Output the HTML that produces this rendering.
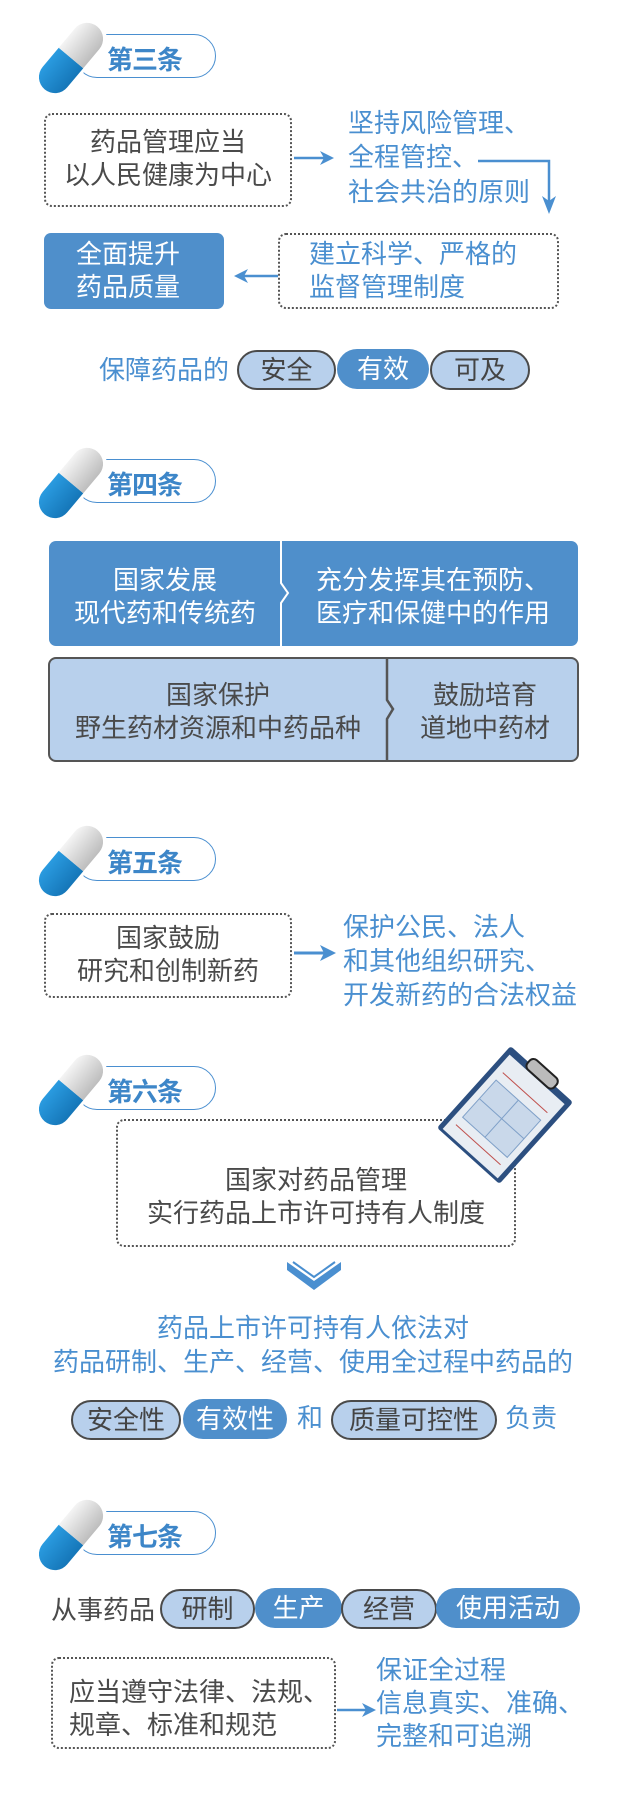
<!DOCTYPE html>
<html><head><meta charset="utf-8">
<style>
*{margin:0;padding:0;box-sizing:border-box}
body{width:626px;height:1800px;background:#fff;position:relative;overflow:hidden;font-family:"Liberation Sans","Noto Sans CJK SC",sans-serif}
.a{position:absolute}
.t{position:absolute;font-size:26px;line-height:33px;white-space:nowrap}
.g{color:#4a4a4a}.b{color:#4a8fd0}.w{color:#fff}
.dash{position:absolute;border:2.5px dotted #555;border-radius:8px}
.title{position:absolute;left:75px;width:141px;height:44px;border:1.5px solid #4a8fd0;border-radius:22px}
.title span{position:absolute;left:31px;top:5px;font-size:26px;font-weight:bold;color:#3d86c8;letter-spacing:-1px}
.pl{position:absolute;height:40px;border-radius:20px;font-size:26px;line-height:36px;text-align:center;white-space:nowrap}
.lt{background:#b8d0ec;border:2.5px solid #4a4a4a;color:#444}
.dk{background:#4f8fcb;color:#fff;line-height:40px}
</style></head><body>

<svg class="a" style="left:0;top:0" width="626" height="1800">
<defs>
<linearGradient id="bl" x1="0" y1="0" x2="0" y2="1"><stop offset="0" stop-color="#2a9be0"/><stop offset="1" stop-color="#1576b8"/></linearGradient>
<linearGradient id="wh" x1="0" y1="0" x2="0" y2="1"><stop offset="0" stop-color="#f4f4f4"/><stop offset="1" stop-color="#bdbdbd"/></linearGradient>
<g id="cap">
<g transform="rotate(-50)">
<rect x="-45" y="-19" width="90" height="38" rx="19" fill="#fff"/>
<path d="M0,-16 H-25 A16,16 0 0 0 -25,16 H0 Z" fill="url(#bl)"/>
<path d="M0,-16 H25 A16,16 0 0 1 25,16 H0 Z" fill="url(#wh)"/>
</g>
</g>
</defs>
<line x1="294" y1="158" x2="330" y2="158" stroke="#4a8fd0" stroke-width="2.5"/>
<path d="M320,151 L334,158 L320,165 L324,158Z" fill="#4a8fd0"/>
<polyline points="478,161 549,161 549,205" fill="none" stroke="#4a8fd0" stroke-width="2.5"/>
<path d="M542,196 L549,214 L556,196 L549,201Z" fill="#4a8fd0"/>
<line x1="278" y1="276" x2="240" y2="276" stroke="#4a8fd0" stroke-width="2.5"/>
<path d="M248,269 L234,276 L248,283 L244,276Z" fill="#4a8fd0"/>
<line x1="294" y1="953" x2="330" y2="953" stroke="#4a8fd0" stroke-width="3"/>
<path d="M320,945 L336,953 L320,961 L324,953Z" fill="#4a8fd0"/>
<path d="M287,1262 L314,1281 L341,1262 L341,1270 L314,1290 L287,1270Z" fill="#4a8fd0"/>
<path d="M293,1262 L314,1277 L335,1262" fill="none" stroke="#4a8fd0" stroke-width="2"/>
<line x1="337" y1="1710" x2="370" y2="1710" stroke="#4a8fd0" stroke-width="2.5"/>
<path d="M362,1703 L376,1710 L362,1717 L366,1710Z" fill="#4a8fd0"/>
</svg>

<div class="title" style="top:34px"><span>第三条</span></div>
<svg class="a" style="left:0;top:0" width="130" height="100"><use href="#cap" x="71" y="58"/></svg>
<div class="dash" style="left:44px;top:113px;width:248px;height:94px"></div>
<div class="t g" style="left:44px;width:248px;text-align:center;top:126px">药品管理应当</div>
<div class="t g" style="left:44px;width:248px;text-align:center;top:159px">以人民健康为中心</div>
<div class="t b" style="left:348px;top:107px">坚持风险管理、</div>
<div class="t b" style="left:348px;top:141px">全程管控、</div>
<div class="t b" style="left:348px;top:176px">社会共治的原则</div>
<div class="a" style="left:44px;top:233px;width:180px;height:76px;background:#4f8fcb;border-radius:7px"></div>
<div class="t w" style="left:76px;top:238px">全面提升</div>
<div class="t w" style="left:76px;top:271px">药品质量</div>
<div class="dash" style="left:278px;top:233px;width:281px;height:76px"></div>
<div class="t b" style="left:309px;top:238px">建立科学、严格的</div>
<div class="t b" style="left:309px;top:271px">监督管理制度</div>
<div class="t b" style="left:99px;top:354px">保障药品的</div>
<div class="pl lt" style="left:237px;top:350px;width:99px">安全</div>
<div class="pl dk" style="left:337px;top:349px;width:92px">有效</div>
<div class="pl lt" style="left:430px;top:350px;width:100px">可及</div>

<div class="title" style="top:459px"><span>第四条</span></div>
<svg class="a" style="left:0;top:425px" width="130" height="100"><use href="#cap" x="71" y="58"/></svg>
<div class="a" style="left:49px;top:541px;width:529px;height:105px;background:#4f8fcb;border-radius:7px"></div>
<svg class="a" style="left:270px;top:541px" width="30" height="105"><polyline points="11,0 11,42 18,52 11,62 11,105" fill="none" stroke="#fff" stroke-width="2"/></svg>
<div class="t w" style="left:49px;width:232px;text-align:center;top:564px">国家发展</div>
<div class="t w" style="left:49px;width:232px;text-align:center;top:597px">现代药和传统药</div>
<div class="t w" style="left:288px;width:290px;text-align:center;top:564px">充分发挥其在预防、</div>
<div class="t w" style="left:288px;width:290px;text-align:center;top:597px">医疗和保健中的作用</div>
<div class="a" style="left:48px;top:657px;width:531px;height:105px;background:#b8d0ec;border:2.5px solid #555;border-radius:8px"></div>
<svg class="a" style="left:380px;top:657px" width="30" height="105"><polyline points="7,2 7,43 13,52 7,62 7,103" fill="none" stroke="#555" stroke-width="2.5"/></svg>
<div class="t g" style="left:49px;width:338px;text-align:center;top:679px">国家保护</div>
<div class="t g" style="left:49px;width:338px;text-align:center;top:712px">野生药材资源和中药品种</div>
<div class="t g" style="left:392px;width:186px;text-align:center;top:679px">鼓励培育</div>
<div class="t g" style="left:392px;width:186px;text-align:center;top:712px">道地中药材</div>

<div class="title" style="top:837px"><span>第五条</span></div>
<svg class="a" style="left:0;top:803px" width="130" height="100"><use href="#cap" x="71" y="58"/></svg>
<div class="dash" style="left:44px;top:913px;width:248px;height:85px"></div>
<div class="t g" style="left:44px;width:248px;text-align:center;top:922px">国家鼓励</div>
<div class="t g" style="left:44px;width:248px;text-align:center;top:955px">研究和创制新药</div>
<div class="t b" style="left:343px;top:911px">保护公民、法人</div>
<div class="t b" style="left:343px;top:945px">和其他组织研究、</div>
<div class="t b" style="left:343px;top:979px">开发新药的合法权益</div>

<div class="title" style="top:1066px"><span>第六条</span></div>
<svg class="a" style="left:0;top:1032px" width="130" height="100"><use href="#cap" x="71" y="58"/></svg>
<div class="dash" style="left:116px;top:1119px;width:400px;height:128px"></div>
<div class="t g" style="left:116px;width:400px;text-align:center;top:1164px">国家对药品管理</div>
<div class="t g" style="left:116px;width:400px;text-align:center;top:1197px">实行药品上市许可持有人制度</div>
<svg class="a" style="left:430px;top:1040px" width="150" height="150">
<g transform="translate(75,75) rotate(42)">
<rect x="-42" y="-55" width="84" height="110" rx="3" fill="#2c4f80"/>
<rect x="-37" y="-48" width="74" height="100" fill="#e8edf3"/>
<rect x="-30" y="-20" width="60" height="50" fill="#c9d8ea" stroke="#7fa0c8"/>
<line x1="0" y1="-20" x2="0" y2="30" stroke="#7fa0c8"/>
<line x1="-30" y1="5" x2="30" y2="5" stroke="#7fa0c8"/>
<line x1="-30" y1="-30" x2="30" y2="-30" stroke="#c0504d" stroke-width="1"/>
<line x1="-30" y1="40" x2="30" y2="40" stroke="#c0504d" stroke-width="1"/>
<rect x="-18" y="-62" width="36" height="13" rx="5" fill="#bbb" stroke="#222" stroke-width="2"/>
</g>
</svg>
<div class="t b" style="left:0;width:626px;text-align:center;top:1312px;font-size:26px">药品上市许可持有人依法对</div>
<div class="t b" style="left:0;width:626px;text-align:center;top:1346px;font-size:26px">药品研制、生产、经营、使用全过程中药品的</div>
<div class="pl lt" style="left:71px;top:1400px;width:110px">安全性</div>
<div class="pl dk" style="left:183px;top:1399px;width:104px">有效性</div>
<div class="t b" style="left:297px;top:1402px">和</div>
<div class="pl lt" style="left:331px;top:1400px;width:166px">质量可控性</div>
<div class="t b" style="left:505px;top:1402px">负责</div>

<div class="title" style="top:1511px"><span>第七条</span></div>
<svg class="a" style="left:0;top:1477px" width="130" height="100"><use href="#cap" x="71" y="58"/></svg>
<div class="t g" style="left:51px;top:1594px">从事药品</div>
<div class="pl lt" style="left:160px;top:1589px;width:95px">研制</div>
<div class="pl dk" style="left:255px;top:1588px;width:87px">生产</div>
<div class="pl lt" style="left:341px;top:1589px;width:96px">经营</div>
<div class="pl dk" style="left:436px;top:1588px;width:144px">使用活动</div>
<div class="dash" style="left:51px;top:1657px;width:285px;height:92px"></div>
<div class="t g" style="left:69px;top:1676px">应当遵守法律、法规、</div>
<div class="t g" style="left:69px;top:1709px">规章、标准和规范</div>
<div class="t b" style="left:376px;top:1654px">保证全过程</div>
<div class="t b" style="left:376px;top:1687px">信息真实、准确、</div>
<div class="t b" style="left:376px;top:1720px">完整和可追溯</div>
</body></html>
